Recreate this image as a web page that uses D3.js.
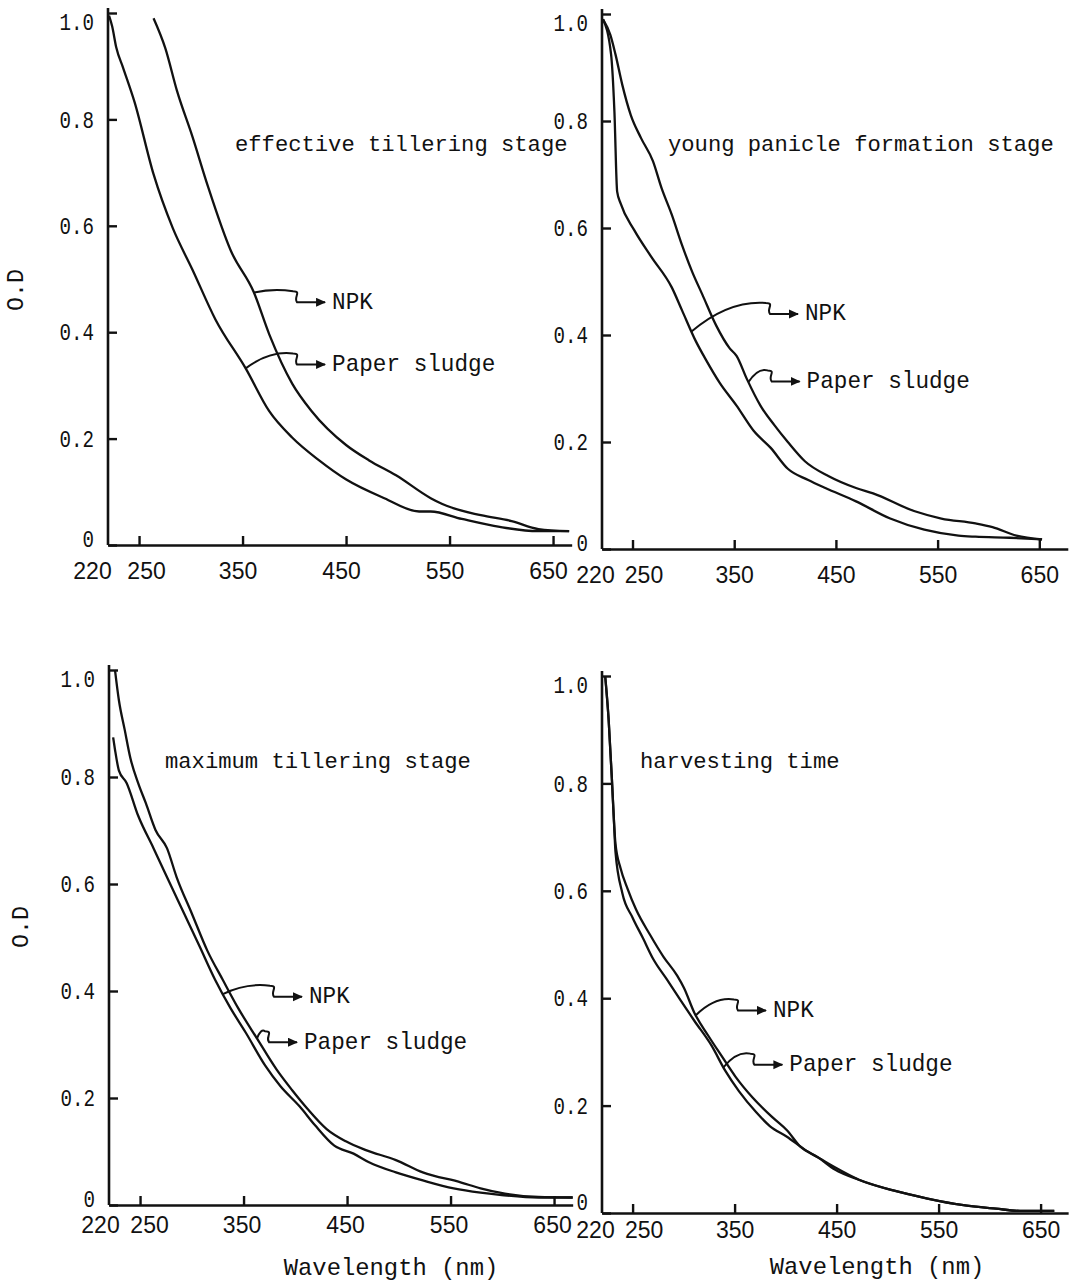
<!DOCTYPE html>
<html>
<head>
<meta charset="utf-8">
<script src="https://cdn.jsdelivr.net/npm/d3@7"></script>
<style>
  body { margin: 0; background: #fff; }
  text { font-family: "Liberation Mono", "Courier New", monospace; fill: #111; }
  .xt text { font-family: "Liberation Sans", Arial, sans-serif; }
</style>
</head>
<body>
<svg id="chart"></svg>
<script>
const wavelengthTicks = [220, 250, 350, 450, 550, 650];
const odTicks = [0, 0.2, 0.4, 0.6, 0.8, 1.0];
const odTickLabels = ["0", "0.2", "0.4", "0.6", "0.8", "1.0"];
const stageTitles = ["effective tillering stage", "young panicle formation stage",
  "maximum tillering stage", "harvesting time"];
const seriesNames = ["NPK", "Paper sludge"];

// [wavelength (nm), O.D]
const effectiveNpk = [[264,0.99],[275.5,0.933],[286.6,0.854],[301.5,0.768],[316.4,0.675],[338.7,0.553],
  [360.9,0.475],[375.8,0.396],[398.1,0.303],[416.6,0.252],[450,0.188],[472.3,0.159],[498.3,0.131],
  [531.8,0.088],[543,0.077],[580.2,0.056],[609.9,0.045],[635.9,0.03],[665.6,0.026]];
const effectiveSludge = [[221,0.995],[224,0.975],[228,0.935],[234.6,0.897],[245.6,0.833],[264,0.697],
  [282.5,0.596],[301.5,0.518],[323.8,0.424],[353.3,0.331],[375.6,0.252],[397.9,0.202],[424,0.159],
  [450.2,0.123],[487,0.088],[520.6,0.063],[531.7,0.063],[561.8,0.049],[598.5,0.034],[635.4,0.026],[665.5,0.026]];

const youngNpk = [[221,0.99],[228.9,0.925],[232.2,0.818],[234.9,0.668],[238.3,0.646],[251.7,0.596],
  [268.5,0.546],[288.6,0.489],[298.7,0.446],[312.1,0.389],[322.1,0.354],[335.6,0.311],[352.3,0.268],
  [369.1,0.221],[385.9,0.189],[402.7,0.15],[422.8,0.129],[439.6,0.114],[469.8,0.089],[503.4,0.057],
  [536.9,0.036],[570.5,0.025],[587.2,0.023],[620.8,0.021],[652.7,0.018]];
const youngSludge = [[221,0.99],[228.2,0.961],[233.2,0.925],[239.9,0.868],[248.3,0.811],[258.4,0.768],
  [270.1,0.725],[278.5,0.675],[288.6,0.625],[298.7,0.568],[308.7,0.518],[318.8,0.475],[332.2,0.418],
  [345.6,0.375],[352.3,0.361],[362.4,0.318],[375.8,0.268],[389.3,0.232],[402.7,0.2],[419.5,0.164],
  [443,0.136],[469.8,0.114],[486.6,0.104],[526.8,0.071],[553.7,0.057],[587.2,0.048],[604,0.041],
  [627.5,0.025],[652.7,0.018]];

const maximumNpk = [[224,0.874],[225.8,0.851],[229.6,0.812],[237,0.789],[248.1,0.728],[263,0.667],
  [277.9,0.605],[292.8,0.544],[307.6,0.483],[322.5,0.421],[337.4,0.368],[352.2,0.322],[370.8,0.261],
  [385.7,0.222],[404.3,0.184],[419.1,0.149],[437.7,0.111],[456.3,0.096],[471.2,0.08],[497.2,0.061],
  [523.2,0.046],[553,0.031],[579,0.023],[597.6,0.019],[634.8,0.014],[668,0.014]];
const maximumSludge = [[225.8,1.0],[229.6,0.943],[235.1,0.889],[240.7,0.835],[248.1,0.789],[255.6,0.751],
  [264.9,0.701],[276,0.667],[285.3,0.613],[300.2,0.544],[315.1,0.475],[329.9,0.421],[344.8,0.368],
  [363.4,0.31],[382,0.253],[396.8,0.215],[411.7,0.18],[430.3,0.142],[448.9,0.119],[467.5,0.103],
  [497.2,0.084],[523.2,0.061],[560.4,0.042],[579,0.031],[597.6,0.023],[634.8,0.015],[668,0.014]];

const harvestNpk = [[223.1,1.0],[226.5,0.919],[229.8,0.804],[231.8,0.727],[233.2,0.688],[238.2,0.642],
  [245,0.604],[253.4,0.565],[266.8,0.519],[280.3,0.477],[293.7,0.442],[300.4,0.419],[310.5,0.373],
  [323.9,0.331],[337.4,0.292],[350.8,0.254],[367.6,0.215],[387.8,0.177],[401.3,0.154],[414.7,0.123],
  [431.5,0.104],[448.3,0.081],[471.8,0.062],[505.5,0.042],[539.1,0.027],[572.7,0.015],[606.3,0.008],
  [629.8,0.004],[663.4,0.004]];
const harvestSludge = [[223.1,1.0],[226.5,0.919],[229.8,0.804],[231.8,0.727],[233.2,0.673],[239.9,0.596],
  [250,0.55],[260.1,0.512],[270.2,0.473],[283.6,0.435],[297.1,0.396],[310.5,0.358],[327.3,0.312],
  [340.8,0.265],[354.2,0.227],[371,0.188],[384.5,0.162],[401.3,0.142],[418.1,0.119],[434.9,0.1],
  [448.3,0.085],[471.8,0.062],[505.5,0.042],[539.1,0.027],[572.7,0.015],[606.3,0.008],[629.8,0.004],
  [663.4,0.004]];

// pointer labels: [anchor nm on curve, label nm, label O.D]
const effectiveNotes = [[361, 436.5, 0.46], [353, 436.5, 0.343]];
const youngNotes = [[308, 419.6, 0.443], [364, 421.2, 0.317]];
const maximumNotes = [[330, 413.2, 0.393], [363, 408.4, 0.308]];
const harvestNotes = [[312, 387.6, 0.381], [339, 403.7, 0.28]];

const W = 1072, H = 1284;
const svg = d3.select("#chart").attr("width", W).attr("height", H);

svg.append("defs").append("marker")
  .attr("id", "arrow").attr("markerUnits", "userSpaceOnUse")
  .attr("markerWidth", 10).attr("markerHeight", 10)
  .attr("refX", 9).attr("refY", 4.5).attr("orient", "auto")
  .append("path").attr("d", "M0,0L10,4.5L0,9Z").attr("fill", "#111");

function squeeze(sel, size, ch) {
  sel.attr("font-size", size)
    .attr("textLength", function () { return this.textContent.length * ch; })
    .attr("lengthAdjust", "spacingAndGlyphs");
}

function odAt(series, nm) {
  const i = Math.max(1, Math.min(series.length - 1, d3.bisector(d => d[0]).left(series, nm)));
  const a = series[i - 1], b = series[i];
  return a[1] + (nm - a[0]) / (b[0] - a[0]) * (b[1] - a[1]);
}

const panels = [
  { x0: 108, k: 1.035, maxNm: 668, y0: 545, y1: 13, xPad: 18, dx: [-16, 7, -5], npk: effectiveNpk,
    sludge: effectiveSludge, title: stageTitles[0], tx: 235, ty: 143, notes: effectiveNotes, od: [15, 290] },
  { x0: 602, k: 1.017, maxNm: 678, y0: 549, y1: 14, xPad: 18, dx: [-7, 11, 0], npk: youngNpk,
    sludge: youngSludge, title: stageTitles[1], tx: 668, ty: 143, notes: youngNotes },
  { x0: 109, k: 1.035, maxNm: 668, y0: 1205, y1: 670, xPad: 12, dx: [-9, 9, -2], npk: maximumNpk,
    sludge: maximumSludge, title: stageTitles[2], tx: 165, ty: 760, notes: maximumNotes,
    od: [20, 927], wl: [391, 1267] },
  { x0: 602, k: 1.02, maxNm: 677, y0: 1213, y1: 676, xPad: 9, dx: [-7, 11, 0], npk: harvestNpk,
    sludge: harvestSludge, title: stageTitles[3], tx: 640, ty: 760, notes: harvestNotes, wl: [877, 1266] }
];

panels.forEach((p, pi) => {
  const x = d3.scaleLinear().domain([220, p.maxNm]).range([p.x0, p.x0 + (p.maxNm - 220) * p.k]);
  const y = d3.scaleLinear().domain([0, 1]).range([p.y0, p.y1]);
  const g = svg.append("g");

  const yAxis = g.append("g").attr("transform", `translate(${p.x0},0)`)
    .call(d3.axisLeft(y).tickValues(odTicks).tickFormat((d, i) => odTickLabels[i])
      .tickSizeInner(-9).tickSizeOuter(0).tickPadding(14));
  const xAxis = g.append("g").attr("class", "xt").attr("transform", `translate(0,${p.y0})`)
    .call(d3.axisBottom(x).tickValues(wavelengthTicks).tickFormat(d3.format("d"))
      .tickSizeInner(-9).tickSizeOuter(0).tickPadding(p.xPad));
  [yAxis, xAxis].forEach(a => {
    a.select(".domain").attr("stroke", "#111").attr("stroke-width", 2.6);
    a.selectAll(".tick line").attr("stroke", "#111").attr("stroke-width", 2.4);
  });
  yAxis.selectAll(".tick text").call(squeeze, 24, 11.5)
    .attr("dy", d => d === 1 ? "0.7em" : d === 0 ? (pi === 3 ? "-0.15em" : "0.05em") : "0.32em");
  xAxis.selectAll(".tick text").attr("font-size", 23)
    .attr("dx", d => d === 220 ? p.dx[0] : d === 250 ? p.dx[1] : p.dx[2]);
  yAxis.select(".domain").attr("d", `M0,${p.y0}V${p.y1 - 5}`);
  xAxis.selectAll(".tick").filter(d => d === 220).select("line").remove();

  const line = d3.line().x(d => x(d[0])).y(d => y(d[1])).curve(d3.curveMonotoneX);
  const series = [p.npk, p.sludge];
  g.selectAll(".curve").data(series).join("path").attr("class", "curve")
    .attr("d", line).attr("fill", "none").attr("stroke", "#111")
    .attr("stroke-width", 2.3).attr("stroke-linejoin", "round");

  p.notes.forEach((n, i) => {
    const A = [x(n[0]), y(odAt(series[i], n[0]))];
    const T = [x(n[1]), y(n[2])];
    const tip = [T[0] - 7, T[1] + 2];
    const s = [tip[0] - 28, tip[1]];
    const q = [s[0] - 4, s[1] - 11];
    g.append("path")
      .attr("d", `M${A}Q${(A[0] + q[0]) / 2},${Math.min(A[1], q[1]) - 3} ${q}` +
        `C${q[0] + 9},${q[1]} ${s[0] - 4},${s[1] - 5} ${s}L${tip}`)
      .attr("fill", "none").attr("stroke", "#111").attr("stroke-width", 2)
      .attr("marker-end", "url(#arrow)");
    g.append("text").attr("x", T[0]).attr("y", T[1]).attr("dy", "0.35em")
      .text(seriesNames[i]).call(squeeze, 24, 13.6);
  });

  g.append("text").attr("x", p.tx).attr("y", p.ty).attr("dy", "0.35em")
    .text(p.title).call(squeeze, 22, 13.3);
  if (p.od) {
    g.append("text").attr("transform", `translate(${p.od[0]},${p.od[1]}) rotate(-90)`)
      .attr("text-anchor", "middle").attr("dy", "0.35em").text("O.D").call(squeeze, 24, 14);
  }
  if (p.wl) {
    g.append("text").attr("x", p.wl[0]).attr("y", p.wl[1]).attr("dy", "0.32em")
      .attr("text-anchor", "middle").text("Wavelength (nm)").call(squeeze, 24, 14.3);
  }
});
</script>
</body>
</html>
